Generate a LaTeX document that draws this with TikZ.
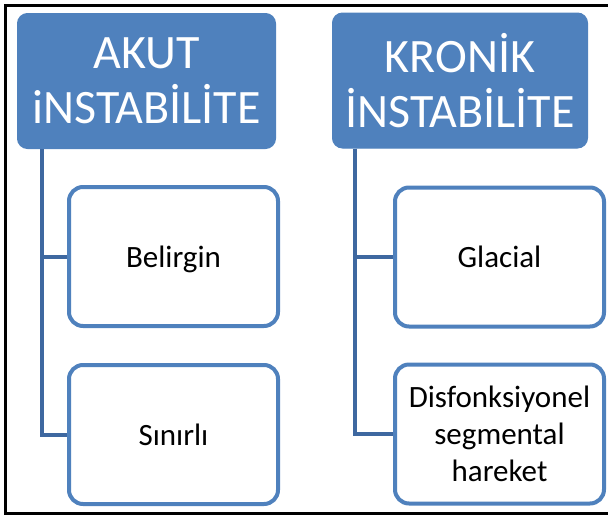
\documentclass[tikz,border=0pt]{standalone}
\usepackage{fontspec}
\setmainfont{Carlito}
\usetikzlibrary{positioning}
\definecolor{boxblue}{RGB}{79,129,189}
\definecolor{linkblue}{RGB}{62,104,160}

\begin{document}
\begin{tikzpicture}[
  x=1pt,y=-1pt,
  node distance=35pt and 50pt,
  headbox/.style={fill=boxblue,draw=boxblue,line width=1pt,rounded corners=10pt,
    minimum width=258pt,minimum height=135pt,align=center,text=white,
    font=\fontsize{48}{55}\selectfont},
  itembox/.style={draw=boxblue,line width=4pt,fill=white,rounded corners=14pt,
    minimum width=209pt,minimum height=139pt,align=center,text depth=0pt,
    font=\fontsize{31}{37}\selectfont},
  trunk/.style={draw=linkblue,line width=4pt}
]
\useasboundingbox (0,0) rectangle (608,515);
% frame
\draw[line width=3pt] (608,5.5) -- (5.5,5.5) -- (5.5,513) -- (608,513);
% headers
\node[headbox] (ak) at (146.5,81) {AKUT\\iNSTABİLİTE};
\node[headbox,minimum width=255pt] (kr) at (460,80.5) {KRONİK\\İNSTABİLİTE};
% items
\node[itembox,below right=36pt and 50pt of ak.south west] (bel) {Belirgin};
\node[itembox,below=35pt of bel] (sin) {Sınırlı};
\node[itembox,below right=37pt and 61pt of kr.south west] (gla) {Glacial};
\node[itembox,below=34pt of gla] (dis) {Disfonksiyonel\\segmental\\hareket};
% connectors
\coordinate[right=25pt of ak.south west] (akroot);
\coordinate[right=23pt of kr.south west] (krroot);
\draw[trunk] (akroot) |- (bel.west);
\draw[trunk] (akroot) |- (sin.west);
\draw[trunk] (krroot) |- (gla.west);
\draw[trunk] (krroot) |- (dis.west);
\end{tikzpicture}
\end{document}
